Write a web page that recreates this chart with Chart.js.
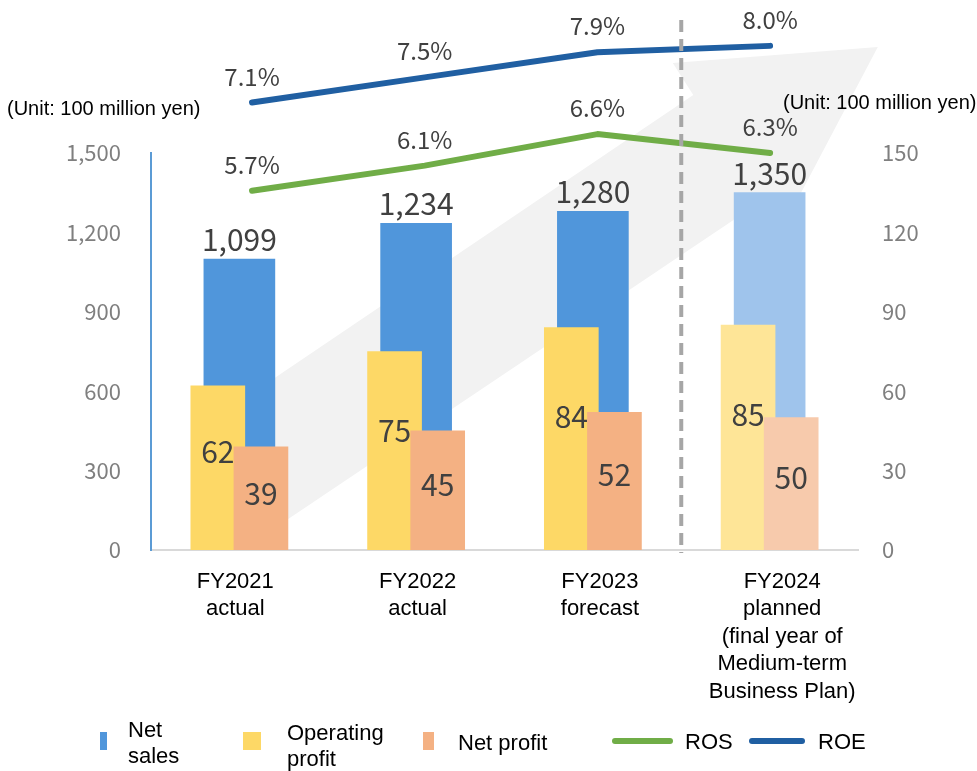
<!DOCTYPE html>
<html><head><meta charset="utf-8">
<script src="https://cdn.jsdelivr.net/npm/chart.js@4.4.1/dist/chart.umd.min.js"></script>
<style>
html,body{margin:0;padding:0;background:#fff;}
#wrap{position:relative;width:977px;height:771px;overflow:hidden;font-family:'Liberation Sans',Arial,sans-serif;color:#000;}
#c{position:absolute;left:0;top:0;}
.t{position:absolute;white-space:nowrap;font-size:22px;line-height:26px;}
.unit{position:absolute;white-space:nowrap;font-size:20px;line-height:20px;}
.mk{position:absolute;}
</style></head><body>
<div id="wrap">
<canvas id="c" width="977" height="771"></canvas>
<div class="unit" style="left:7px;top:98px">(Unit: 100 million yen)</div>
<div class="unit" style="left:783px;top:92px">(Unit: 100 million yen)</div>
<div id="legend"></div>
</div>
<script>
// ---- data ----
const categories = [['FY2021','actual'],['FY2022','actual'],['FY2023','forecast'],['FY2024','planned','(final year of','Medium-term','Business Plan)']];
const netSales = [1099, 1234, 1280, 1350];
const operatingProfit = [62, 75, 84, 85];
const netProfit = [39, 45, 52, 50];
const ros = [5.7, 6.1, 6.6, 6.3];
const roe = [7.1, 7.5, 7.9, 8.0];
const salesTicks = [0, 300, 600, 900, 1200, 1500];
const profitTicks = [0, 30, 60, 90, 120, 150];
const planIndex = 3; // planned year (lighter colours)

// ---- styles ----
const C = {
  sales: '#5096DB', salesLight: '#9FC4EC',
  op: '#FDD866', opLight: '#FEE597',
  np: '#F4B183', npLight: '#F7CAAC',
  ros: '#70AD47', roe: '#205FA2',
  arrow: '#F2F2F2', label: '#404040', tick: '#7F7F7F'
};
const numFont = "'Noto Sans CJK JP', 'Noto Sans', sans-serif";
const txtFont = "'Liberation Sans', Arial, sans-serif";
const pick = (dark, light) => (ctx) => ctx.dataIndex === planIndex ? light : dark;
const opShift = -0.122, npShift = 0.122;

// legend
const legendItems = [
  {html:'Net<br>sales', color:C.sales, mk:[100,732,7,18], tx:[128,717]},
  {html:'Operating<br>profit', color:C.op, mk:[243,732,18,18], tx:[287,720]},
  {html:'Net profit', color:C.np, mk:[423,732,11,18], tx:[458,730]},
  {html:'ROS', color:C.ros, mk:[612,738,61,6], tx:[685,729], line:true},
  {html:'ROE', color:C.roe, mk:[749,738,56,6], tx:[818,729], line:true}
];
const lg = document.getElementById('legend');
legendItems.forEach(it => {
  const m = document.createElement('div');
  m.className = 'mk';
  m.style.cssText = `left:${it.mk[0]}px;top:${it.mk[1]}px;width:${it.mk[2]}px;height:${it.mk[3]}px;background:${it.color};` + (it.line ? 'border-radius:3px;' : '');
  lg.appendChild(m);
  const t = document.createElement('div');
  t.className = 't';
  t.style.left = it.tx[0] + 'px'; t.style.top = it.tx[1] + 'px';
  t.innerHTML = it.html;
  lg.appendChild(t);
});

// background arrow (fractions of chart area)
const arrowShape = [[0.133,0.617],[0.767,-0.146],[0.738,-0.227],[1.028,-0.267],[0.847,0.345],[0.836,0.154],[0.133,0.995]];
const arrowPlugin = {
  id: 'arrowBg',
  beforeDraw(chart) {
    const {ctx, chartArea: a} = chart;
    ctx.save();
    ctx.fillStyle = C.arrow;
    ctx.beginPath();
    arrowShape.forEach(([fx, fy], i) => {
      const px = a.left + fx * (a.right - a.left), py = a.top + fy * (a.bottom - a.top);
      i ? ctx.lineTo(px, py) : ctx.moveTo(px, py);
    });
    ctx.closePath();
    ctx.fill();
    ctx.restore();
  }
};

const labelPlugin = {
  id: 'labels',
  afterDatasetsDraw(chart) {
    const {ctx, chartArea: a} = chart;
    const xs = chart.scales.x;
    const xd = (xs.getPixelForValue(planIndex - 1) + xs.getPixelForValue(planIndex)) / 2;
    ctx.save();
    ctx.strokeStyle = '#A6A6A6';
    ctx.lineWidth = 4;
    ctx.setLineDash([12, 7]);
    ctx.beginPath();
    ctx.moveTo(xd, a.top - 133);
    ctx.lineTo(xd, a.bottom + 3);
    ctx.stroke();
    ctx.restore();

    ctx.save();
    ctx.fillStyle = C.label;
    ctx.textAlign = 'center';
    chart.data.datasets.forEach((ds, di) => {
      const meta = chart.getDatasetMeta(di);
      meta.data.forEach((el, i) => {
        const src = ds.values[i];
        if (ds.labelMode === 'above') {
          ctx.font = `30px ${numFont}`;
          ctx.textBaseline = 'alphabetic';
          ctx.fillText(src.toLocaleString('en-US'), el.x, el.y - 8);
        } else if (ds.labelMode === 'inside') {
          ctx.font = `30px ${numFont}`;
          ctx.textBaseline = 'middle';
          ctx.fillText(String(src), el.x, el.y + ds.labelFrac * (el.base - el.y));
        } else if (ds.labelMode === 'pct') {
          ctx.font = `24px ${numFont}`;
          ctx.textBaseline = 'alphabetic';
          ctx.fillText(src.toFixed(1) + '%', el.x, el.y - 17);
        }
      });
    });
    ctx.restore();
  }
};

const lineData = arr => arr.map((v, i) => ({x: i, y: v}));

new Chart(document.getElementById('c'), {
  type: 'bar',
  data: {
    labels: categories,
    datasets: [
      {type:'line', label:'ROE', values: roe, data: lineData(roe), xAxisID:'xr', yAxisID:'y3',
       borderColor:C.roe, borderWidth:6, pointRadius:0, borderCapStyle:'round', borderJoinStyle:'round',
       tension:0, clip:false, fill:false, labelMode:'pct', order:0},
      {type:'line', label:'ROS', values: ros, data: lineData(ros), xAxisID:'xr', yAxisID:'y3',
       borderColor:C.ros, borderWidth:6, pointRadius:0, borderCapStyle:'round', borderJoinStyle:'round',
       tension:0, clip:false, fill:false, labelMode:'pct', order:0},
      {label:'Net profit', values: netProfit, data: netProfit.map((v,i)=>({x:i+npShift, y:v})),
       xAxisID:'xl', yAxisID:'y2', backgroundColor: pick(C.np, C.npLight), barThickness:54, grouped:false,
       labelMode:'inside', labelFrac:0.45, order:1},
      {label:'Operating profit', values: operatingProfit, data: operatingProfit.map((v,i)=>({x:i+opShift, y:v})),
       xAxisID:'xl', yAxisID:'y2', backgroundColor: pick(C.op, C.opLight), barThickness:54, grouped:false,
       labelMode:'inside', labelFrac:0.4, order:2},
      {label:'Net sales', values: netSales, data: netSales, xAxisID:'x', yAxisID:'y',
       backgroundColor: pick(C.sales, C.salesLight), barThickness:71, grouped:false,
       labelMode:'above', order:3}
    ]
  },
  options: {
    responsive:false, maintainAspectRatio:false, animation:false, devicePixelRatio:1,
    layout:{padding:{top:153, left:0, right:0, bottom:0}},
    plugins:{legend:{display:false}, tooltip:{enabled:false}},
    scales:{
      x:{type:'category', display:false, offset:true},
      xl:{type:'linear', axis:'x', position:'bottom', display:false, offset:false, min:-0.5, max:3.5},
      xr:{type:'linear', axis:'x', position:'bottom', display:false, offset:false, min:-0.585, max:3.509},
      xlab:{type:'linear', axis:'x', position:'bottom', offset:false, min:-0.4624, max:3.4158,
        grid:{display:false, drawTicks:false, tickLength:0, offset:false},
        border:{display:true, color:'#D9D9D9', width:2},
        afterBuildTicks: s => { s.ticks = categories.map((c, i) => ({value:i})); },
        afterFit: s => { s.height = 221; },
        ticks:{autoSkip:false, maxRotation:0, minRotation:0, padding:18, color:'#000',
          font:{family:txtFont, size:22, lineHeight:1.25},
          callback: (v) => categories[Math.round(v)]}
      },
      y:{type:'linear', position:'left', min:0, max:1500,
        grid:{display:false, drawTicks:false, tickLength:0},
        border:{display:true, color:'#5B9BD5', width:2},
        afterBuildTicks: s => { s.ticks = salesTicks.map(v => ({value:v})); },
        afterFit: s => { s.width = 151; },
        ticks:{padding:30, color:C.tick, font:{family:numFont, size:22},
          callback: v => Number(v).toLocaleString('en-US')}
      },
      y2:{type:'linear', position:'right', min:0, max:150,
        grid:{display:false, drawTicks:false, tickLength:0},
        border:{display:false},
        afterBuildTicks: s => { s.ticks = profitTicks.map(v => ({value:v})); },
        afterFit: s => { s.width = 119; },
        ticks:{padding:24, color:C.tick, font:{family:numFont, size:22}}
      },
      y3:{type:'linear', position:'left', display:false, min:0, max:6.3}
    }
  },
  plugins:[arrowPlugin, labelPlugin]
});
</script>
</body></html>
